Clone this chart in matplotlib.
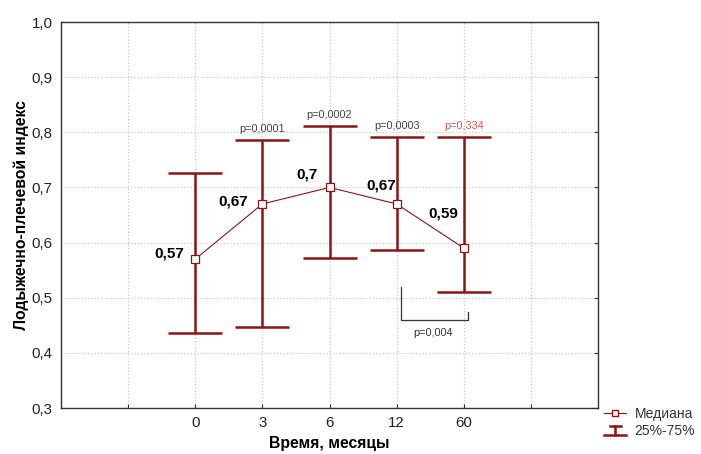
import matplotlib
matplotlib.use("Agg")
import matplotlib.pyplot as plt
from matplotlib.lines import Line2D
from matplotlib.legend_handler import HandlerBase

plt.rcParams['font.family'] = ['Liberation Sans', 'DejaVu Sans']

categories = ['0', '3', '6', '12', '60']
median = [0.57, 0.67, 0.70, 0.67, 0.59]
q25 = [0.436, 0.447, 0.572, 0.587, 0.511]
q75 = [0.726, 0.786, 0.811, 0.791, 0.791]
value_labels = ['0,57', '0,67', '0,7', '0,67', '0,59']
p_labels = ['', 'p=0,0001', 'p=0,0002', 'p=0,0003', 'p=0,334']
p_colors = ['#444444', '#444444', '#444444', '#444444', '#e05555']
bracket_label = 'p=0,004'
yticks = [0.3, 0.4, 0.5, 0.6, 0.7, 0.8, 0.9, 1.0]

DARK = '#8b1414'

fig = plt.figure(figsize=(7.01, 4.54), dpi=100)
ax = fig.add_axes([61/701, 46/454, (598-61)/701, (408-22)/454])

x = list(range(len(categories)))
lower_err = [m - l for m, l in zip(median, q25)]
upper_err = [u - m for m, u in zip(median, q75)]

ax.errorbar(x, median, yerr=[lower_err, upper_err], fmt='none',
            ecolor=DARK, elinewidth=1.8, capsize=19.5, capthick=1.8, zorder=3)
ax.plot(x, median, color=DARK, lw=0.8, marker='s', ms=5.2,
        mfc='white', mec=DARK, mew=0.9, zorder=4)

# value labels (offsets in points)
offsets = [(-19, 4), (-21, 2), (-16, 9), (-11, 13), (-15, 25)]
for xi, m, lab, off in zip(x, median, value_labels, offsets):
    ax.annotate(lab, (xi, m), xytext=off, textcoords='offset points',
                ha='center', va='center', fontsize=11, fontweight='bold', color='black')

for xi, u, lab, c in zip(x, q75, p_labels, p_colors):
    if lab:
        ax.annotate(lab, (xi, u), xytext=(0, 8), textcoords='offset points',
                    ha='center', va='center', fontsize=7.8, color=c)

# bracket between 12 and 60
bx0, bx1 = 3.06, 4.06
ax.plot([bx0, bx0, bx1, bx1], [0.519, 0.46, 0.46, 0.474], color='#333333', lw=0.9, zorder=2)
ax.text((bx0 + bx1) / 2 - 0.02, 0.436, bracket_label, ha='center', va='center',
        fontsize=7.8, color='#333333')

ax.set_xlim(-2, 6)
ax.set_ylim(0.3, 1.0)
ax.set_xticks(range(-1, 6))
ax.set_xticklabels([''] + categories + [''])
ax.set_yticks(yticks)
ax.set_yticklabels([f'{v:.1f}'.replace('.', ',') for v in yticks])
ax.tick_params(axis='both', direction='in', length=3, labelsize=10.8, colors='#333333',
               labelcolor='#222222', pad=6)
ax.tick_params(axis='y', right=True, left=False)
ax.grid(True, color='#c8c8c8', linestyle=':', linewidth=0.9)
ax.set_axisbelow(True)
for sp in ax.spines.values():
    sp.set_color('#333333')
    sp.set_linewidth(1.0)

ax.set_xlabel('Время, месяцы', fontsize=11.3, fontweight='bold', labelpad=4)
ax.set_ylabel('Лодыжечно-плечевой индекс', fontsize=11.3, fontweight='bold', labelpad=2)


class IQRHandler(HandlerBase):
    def create_artists(self, legend, orig_handle, xdescent, ydescent, width, height, fontsize, trans):
        cx = width / 2 - xdescent
        lines = [
            Line2D([cx - 4, cx + 4], [height, height]),
            Line2D([cx, cx], [0, height]),
            Line2D([cx - 8, cx + 8], [0, 0]),
        ]
        for l in lines:
            l.set_color(DARK)
            l.set_linewidth(1.8)
            l.set_transform(trans)
        return lines


med_handle = Line2D([], [], color=DARK, lw=0.8, marker='s', ms=5, mfc='white', mec=DARK)
iqr_handle = Line2D([], [])
fig.legend([med_handle, iqr_handle], ['Медиана', '25%-75%'],
           handler_map={iqr_handle: IQRHandler()},
           loc='upper left', bbox_to_anchor=(604/701, 1 - 407/454),
           frameon=False, fontsize=10, handlelength=1.6, handletextpad=0.6,
           labelspacing=0.25, borderpad=0.0, borderaxespad=0.0, labelcolor='#333333')

fig.savefig('out.png', dpi=100)
